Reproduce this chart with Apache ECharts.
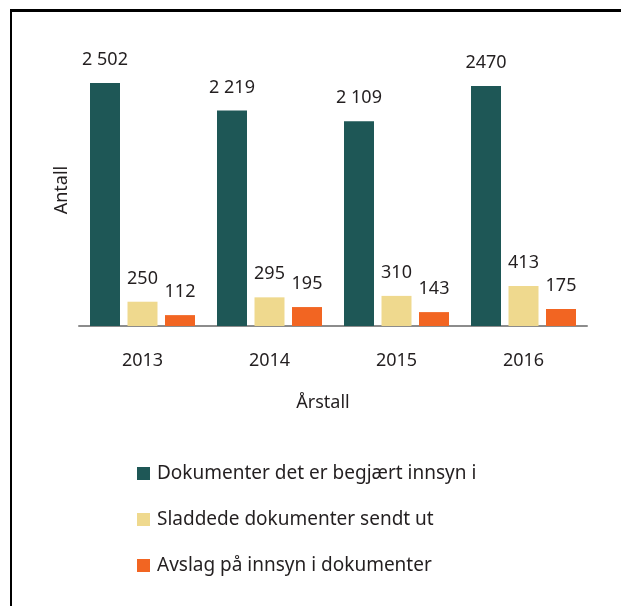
<!DOCTYPE html>
<html><head><meta charset="utf-8">
<script src="https://cdn.jsdelivr.net/npm/echarts@6/dist/echarts.min.js"></script>
<style>html,body{margin:0;padding:0;background:#fff}#c{width:621px;height:606px}</style>
</head><body><div id="c"></div>
<script>
const categories = ['2013', '2014', '2015', '2016'];
const seriesNames = ['Dokumenter det er begjært innsyn i', 'Sladdede dokumenter sendt ut', 'Avslag på innsyn i dokumenter'];
const requested = [2502, 2219, 2109, 2470];
const redacted = [250, 295, 310, 413];
const refused = [112, 195, 143, 175];
const requestedLabels = ['2 502', '2 219', '2 109', '2470'];
const redactedLabels = ['250', '295', '310', '413'];
const refusedLabels = ['112', '195', '143', '175'];
const colors = ['#1e5756', '#efd98e', '#f26522'];

const FONT = 'Noto Sans';
const chart = echarts.init(document.getElementById('c'), null, {renderer: 'canvas'});
function mk(name, data, labels, color) {
  return {
    name, type: 'bar', data, barWidth: 30, barGap: '25%',
    itemStyle: {color},
    label: {show: true, position: 'top', distance: 14, color: '#231f20', fontSize: 18, fontFamily: FONT,
      formatter: p => labels[p.dataIndex]}
  };
}
chart.setOption({
  animation: false,
  textStyle: {fontFamily: FONT},
  grid: {left: 79, right: 34, top: 54, bottom: 280},
  xAxis: {
    type: 'category', data: categories,
    name: 'Årstall', nameLocation: 'middle', nameGap: 68,
    nameTextStyle: {color: '#231f20', fontSize: 18, fontFamily: FONT, padding: [0, 20, 0, 0]},
    axisLine: {lineStyle: {color: '#8c8c8c', width: 2}},
    axisTick: {show: false},
    axisLabel: {color: '#231f20', fontSize: 18, fontFamily: FONT, margin: 26}
  },
  yAxis: {
    type: 'value', min: 0, max: 2800,
    name: 'Antall', nameLocation: 'middle', nameGap: 8, nameRotate: 90,
    nameTextStyle: {color: '#231f20', fontSize: 18, fontFamily: FONT},
    axisLine: {show: false}, axisTick: {show: false}, axisLabel: {show: false}, splitLine: {show: false}
  },
  legend: {
    orient: 'vertical', left: 137, top: 464, padding: 0, itemWidth: 13, itemHeight: 13, itemGap: 27,
    icon: 'rect',
    textStyle: {color: '#231f20', fontSize: 19, fontFamily: FONT, padding: [0, 0, 0, 2]},
    data: seriesNames
  },
  graphic: [
    {type: 'line', shape: {x1: 10, y1: 10.5, x2: 621, y2: 10.5}, style: {stroke: '#000', lineWidth: 3}},
    {type: 'line', shape: {x1: 11, y1: 9, x2: 11, y2: 606}, style: {stroke: '#000', lineWidth: 2}}
  ],
  series: [
    mk(seriesNames[0], requested, requestedLabels, colors[0]),
    mk(seriesNames[1], redacted, redactedLabels, colors[1]),
    mk(seriesNames[2], refused, refusedLabels, colors[2])
  ]
});
</script></body></html>
